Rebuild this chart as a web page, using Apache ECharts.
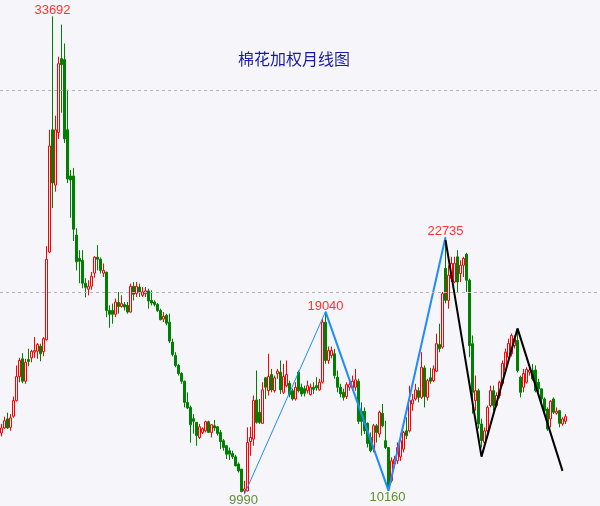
<!DOCTYPE html>
<html>
<head>
<meta charset="utf-8">
<script src="https://cdn.jsdelivr.net/npm/echarts@6/dist/echarts.min.js"></script>
<style>
html,body{margin:0;padding:0;background:#f5f5fa;}
#c{width:600px;height:506px;}
</style>
</head>
<body>
<div id="c"></div>
<script>
// Monthly OHLC of the cotton weighted contract
const opens = [
13020,13270,13720,13300,13850,14630,15820,16700,15590,16670,
16750,17030,17080,17330,17050,17650,22000,28060,25320,27930,
31590,31540,28060,25770,25770,22840,21690,21590,20450,20150,
20300,20950,21740,21640,20950,21000,19100,19100,18910,19500,
19300,19390,19350,19020,20300,19930,20260,19850,19930,20070,
19600,19520,19400,19100,18670,18860,18520,17530,16870,16370,
15970,15590,14540,14290,13730,13550,12800,13050,13130,13580,
13050,13380,13330,13050,12640,12390,12140,12000,11840,11480,
11230,10150,10150,12600,12720,14660,14050,13500,15760,15120,
15920,15120,15960,16040,15040,15370,15490,15120,14710,16040,
15290,15220,15120,14930,15290,15370,15160,15540,18520,16620,
16870,16950,15790,15290,15040,14830,15290,15260,15290,15590,
14100,14100,13500,12800,12220,13380,12970,14000,12640,12300,
10650,11480,11640,11840,12220,13130,13130,14460,14710,15120,
14790,16250,14790,15760,15620,16090,17410,17280,21190,19600,
20680,20510,21760,20930,21340,21890,20600,17450,14630,15120,
13470,12550,13130,14380,15120,14380,14880,15470,16120,16780,
16950,17360,17610,15790,15290,15540,16040,16120,16150,15540,
15210,14710,14210,13720,14710,14000,14130,13470,13600];
const closes = [
13270,13630,13270,13770,14630,15820,16620,15590,16530,16570,
17070,17110,17410,16950,17700,21630,27260,25420,28060,31340,
31290,27610,25620,25570,23130,21510,21540,20450,20250,20300,
20800,21740,21640,21090,21090,19100,18910,18910,19520,19300,
19440,19270,19020,20300,19900,20300,20020,20020,20070,19570,
19470,19400,19100,18640,18810,18470,17580,16920,16370,15970,
15590,14540,14260,13430,13600,12890,13330,13230,13580,13050,
13430,13270,13000,12600,12300,11970,11970,11840,11390,11140,
10120,10250,12550,12800,14630,13550,13550,15160,15290,15820,
15160,15760,16090,15160,15820,15920,14930,14710,15290,15120,
14960,14990,15370,15290,15190,15260,15540,18520,16620,17110,
17110,15870,15290,14960,14790,15420,15420,15590,15660,13600,
13600,13130,12500,12140,13380,13050,14050,13380,12300,10310,
11640,11730,12300,12640,13050,12890,14630,14660,15160,14790,
16280,14830,15620,15590,16200,17450,17200,19930,19600,20850,
21430,21440,20510,21340,21680,20600,17360,15040,15120,13470,
12640,13130,14290,15120,14380,14880,15540,16470,17030,17460,
17860,17700,16120,15040,15970,16170,16150,15700,15120,15210,
14710,14130,13220,14590,14050,14100,13500,13720,13830];
const lows = [
12850,13230,13230,13130,13780,14580,15540,15490,15460,16330,
16530,16750,16700,16580,16830,17610,21940,24180,24990,27610,
28910,27410,25420,23700,22550,21090,20450,20200,19750,19850,
20130,20730,21090,20930,20760,18770,18240,18440,18770,18940,
19240,19100,18940,19000,19600,19770,19770,19770,19770,19190,
19350,19300,19020,18610,18520,18360,17480,16820,16280,15870,
15460,14290,14210,12540,12990,12390,12720,12970,13050,13030,
12800,13130,12890,12220,12140,11730,11680,11730,11370,11060,
10070,9990,10120,11890,12390,13480,13470,13470,14710,14880,
15040,15030,15710,14960,14960,15290,14790,14630,14630,15030,
14830,14830,14980,14880,14960,15120,15120,15470,16450,16450,
16720,15710,15040,14790,14630,14710,15120,15120,15120,13470,
12890,12970,12300,12060,12060,12550,12800,13300,12220,10160,
10560,11310,11480,11640,12060,12720,13050,14130,14630,14540,
14710,14290,14630,15460,15540,16040,17030,17200,19450,19190,
20510,20450,20020,20510,20760,20020,16780,13980,14130,13230,
12300,12240,13040,14290,14130,14290,14730,15370,16020,16720,
16820,17210,16020,14790,15040,15470,15870,15620,15040,15040,
14540,13880,13130,13300,13960,13930,13300,13380,13470];
const highs = [
13470,13830,14030,13960,14830,16370,16750,16980,16700,17200,
17150,17780,17480,17450,17780,22290,28060,33692,28760,31690,
33280,32340,30050,26070,26170,23180,22090,22090,20700,20600,
21010,21790,22340,21730,21430,21010,19350,19440,19690,20020,
19850,19520,19520,20430,20510,20510,20430,20260,20260,20180,
20100,19600,19470,19190,19020,18940,18940,17700,17030,16450,
16040,15620,15040,14380,13960,13560,13470,13300,13630,13630,
13470,13670,13350,13170,12720,12400,12300,12140,11940,11560,
11240,10650,13300,13330,14880,16120,14710,15540,15790,16950,
16200,15870,16200,16620,16450,16620,15620,15220,15540,16120,
15470,15370,15620,15470,15540,15790,15710,18710,19040,17310,
17310,17200,16120,15460,15220,15540,15620,15870,16200,15710,
14540,14290,13550,13050,13470,13470,14130,14460,13630,12310,
11810,11890,12550,13000,13130,13800,15370,14960,15460,15290,
17030,16370,15710,16250,16370,17950,18440,20020,22735,21340,
21760,21760,22090,21590,21760,21960,20680,17860,15870,15220,
13730,13300,14380,15370,15370,15040,15620,16620,17210,17700,
17950,17860,18110,15870,16200,16280,16280,16450,16370,15710,
14790,14790,14290,14660,14790,14290,14170,13800,13960];

// Zigzag pivots (bar index, price)
const bluePivotIdx = [81, 108, 129, 148];
const bluePivotVal = [9990, 19040, 10160, 22735];
const blackPivotIdx = [148, 160, 172, 187];
const blackPivotVal = [22600, 11850, 18210, 11140];

// Annotated extremes
const highLabelIdx = [17, 108, 148];
const highLabelVal = [33692, 19040, 22735];
const lowLabelIdx = [81, 129];
const lowLabelVal = [9990, 10160];

const gridLines = [20000, 30000];
const slots = 200;
const titleText = '棉花加权月线图';

const categories = [];
for (let i = 0; i < slots; i++) categories.push(String(i));
const ohlc = opens.map((o, i) => [o, closes[i], lows[i], highs[i]]);

const blue1 = [[bluePivotIdx[0], bluePivotVal[0]], [bluePivotIdx[1], bluePivotVal[1]]];
const blue2 = bluePivotIdx.slice(1).map((x, i) => [x, bluePivotVal[i + 1]]);
const black = blackPivotIdx.map((x, i) => [x, blackPivotVal[i]]);

const chart = echarts.init(document.getElementById('c'), null, {renderer: 'canvas'});
chart.setOption({
  animation: false,
  backgroundColor: '#f5f5fa',
  title: {
    text: titleText,
    left: 233,
    top: 46,
    textStyle: {fontFamily: 'Noto Sans CJK SC', fontSize: 16, fontWeight: 'normal', color: '#1a1aa8'}
  },
  grid: {left: 0, right: 0, top: 0, bottom: 0},
  xAxis: {type: 'category', data: categories, boundaryGap: true, show: false},
  yAxis: {type: 'value', min: 9400, max: 34500, show: false, splitLine: {show: false}},
  series: [
    {
      type: 'candlestick',
      data: ohlc,
      barWidth: 2,
      itemStyle: {
        color: '#f5f5fa', borderColor: '#ff0000',
        color0: '#008000', borderColor0: '#008000', borderWidth: 1
      },
      markLine: {
        silent: true, symbol: 'none', label: {show: false},
        lineStyle: {color: '#b4b4bc', type: [3, 3], width: 1},
        data: gridLines.map(v => ({yAxis: v}))
      }
    },
    {type: 'line', data: blue1, symbol: 'none', lineStyle: {color: '#1e8cff', width: 1}, z: 3},
    {type: 'line', data: blue2, symbol: 'none', lineStyle: {color: '#1e8cff', width: 2}, z: 3},
    {type: 'line', data: black, symbol: 'none', lineStyle: {color: '#000000', width: 2}, z: 3},
    {
      type: 'scatter', symbolSize: 0, z: 5,
      data: highLabelIdx.map((x, i) => [x, highLabelVal[i]]),
      label: {show: true, position: 'top', distance: 0, offset: [0, 1], color: '#ff0000',
        fontFamily: 'Liberation Sans', fontSize: 13, formatter: p => p.value[1]}
    },
    {
      type: 'scatter', symbolSize: 0, z: 5,
      data: lowLabelIdx.map((x, i) => [x, lowLabelVal[i]]),
      label: {show: true, position: 'bottom', distance: 0, offset: [-1, 0], color: '#3a7400',
        fontFamily: 'Liberation Sans', fontSize: 13, formatter: p => p.value[1]}
    }
  ]
});
</script>
</body>
</html>
